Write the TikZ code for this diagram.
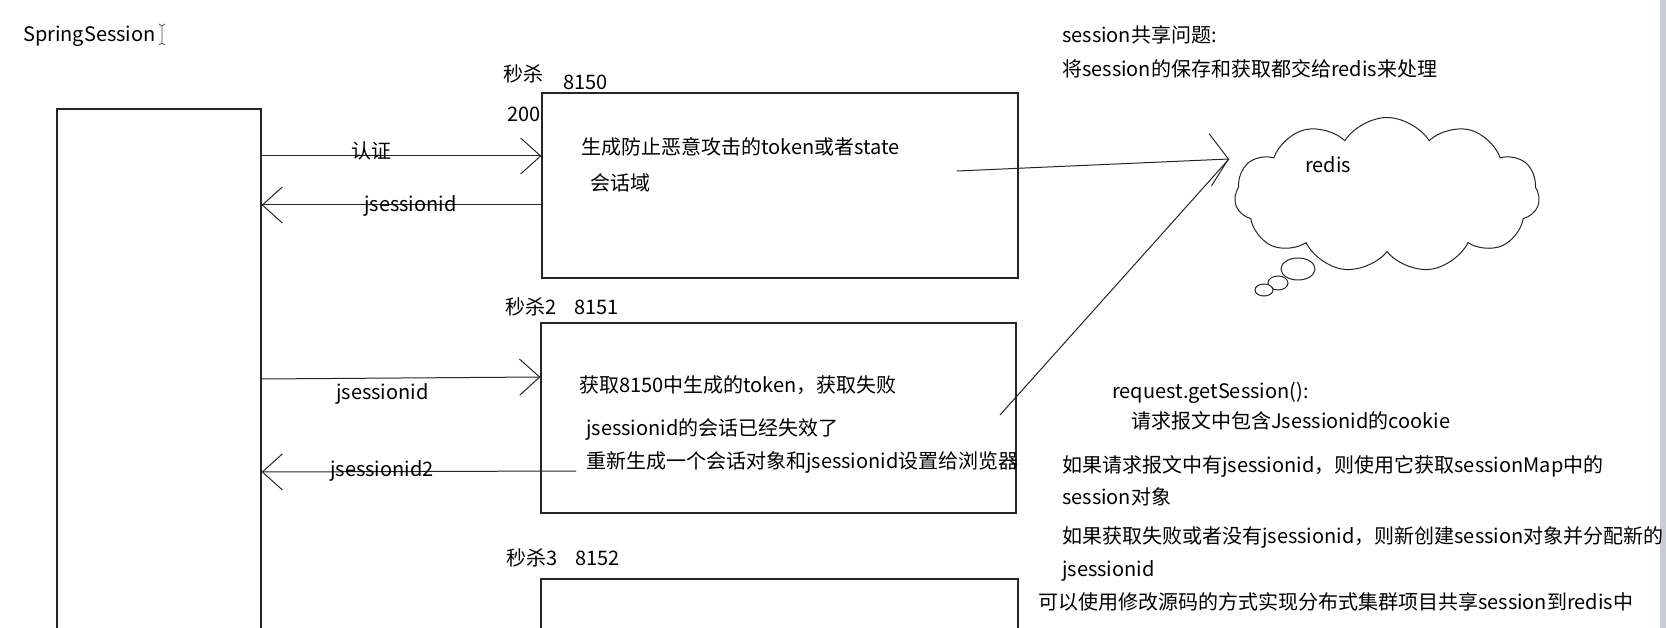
\documentclass[tikz,border=0pt]{standalone}
\usepackage{fontspec}
\setmainfont{Noto Sans CJK SC}
\usetikzlibrary{arrows.meta,shapes.symbols}
\definecolor{barcol}{RGB}{200,205,214}
\begin{document}
\begin{tikzpicture}[x=1pt,y=-1pt,
  txt/.style={anchor=west,inner sep=0pt,font=\fontsize{20}{23}\selectfont,text height=14pt,text depth=5pt,yshift=-3pt},
  box/.style={draw=black!85,line width=1.2pt,inner sep=0pt,fill=none},
  conn/.style={draw=black!85,line width=1pt},
  barb/.style={-{Straight Barb[length=20pt,width=36pt,line width=1pt]}},
  rbarb/.style={-{Straight Barb[length=18pt,width=52pt,line width=1pt]}}
]
\useasboundingbox (0,0) rectangle (1666,628);
\clip (0,0) rectangle (1666,628);
\fill[white] (0,0) rectangle (1666,628);
\fill[barcol] (1660,0) rectangle (1666,628);

% title and cursor
\node[txt] (title) at (23,34) {SpringSession};
\draw[black!70,line width=0.8pt] (159,24) -- (162,26) -- (165,24)
  (162,26) -- (162,43) (159,45) -- (162,43) -- (165,45);

% boxes
\node[box,minimum width=204pt,minimum height=582pt] (lb) at (159,400) {};
\node[box,minimum width=476pt,minimum height=185pt] (b1) at (780,185.5) {};
\node[box,minimum width=475pt,minimum height=190pt] (b2) at (778.5,418) {};
\node[box,minimum width=477pt,minimum height=200pt] (b3) at (779.5,679) {};

% box labels
\node[txt] (l1a) at (503,74) {秒杀};
\node[txt] (l1b) at (563,82) {8150};
\node[txt] (l1c) at (507,114) {200};
\node[txt] (l2) at (505,307) {秒杀2\hspace{18pt}8151};
\node[txt] (l3) at (506,558) {秒杀3\hspace{18pt}8152};

% box contents
\node[txt] (t11) at (581,147) {生成防止恶意攻击的token或者state};
\node[txt] (t12) at (590,183) {会话域};
\node[txt] (t21) at (579,385) {获取8150中生成的token，获取失败};
\node[txt] (t22) at (586,428) {jsessionid的会话已经失效了};
\node[txt] (t23) at (586,461) {重新生成一个会话对象和jsessionid设置给浏览器};

% cloud
\node[cloud,draw=black!85,line width=1pt,cloud puffs=11,cloud puff arc=115,cloud ignores aspect,
  minimum width=305pt,minimum height=155pt,inner sep=0pt] (redis) at (1387,195) {};
\node[txt] (redistxt) at (1305,165) {redis};
\draw[black!85,line width=1pt,fill=white] (1298,269) ellipse [x radius=17, y radius=11];
\draw[black!85,line width=1pt,fill=white] (1278,283) ellipse [x radius=10, y radius=7];
\draw[black!85,line width=1pt,fill=white] (1264,290) ellipse [x radius=9, y radius=6];
\coordinate (rtip) at (1229,159);

% connectors
\draw[conn,barb] (lb.east |- 0,156) -- (b1.west |- 0,156);
\draw[conn,barb] (b1.west |- 0,205) -- (lb.east |- 0,205);
\draw[conn,barb] (lb.east |- 0,379) -- (b2.west |- 0,377);
\coordinate (r2s) at (576,471);
\draw[conn,barb] (r2s) -- (lb.east |- 0,472);
\coordinate (s1) at (957,171);
\coordinate (s2) at (1000,415);
\draw[conn,rbarb] (s1) -- (rtip);
\draw[conn] (s2) -- (rtip);

% connector labels
\node[txt] (c1) at (351,151) {认证};
\node[txt] (c2) at (364,204) {jsessionid};
\node[txt] (c3) at (336,392) {jsessionid};
\node[txt] (c4) at (330,469) {jsessionid2};

% notes
\node[txt] (n1) at (1062,35) {session共享问题:};
\node[txt] (n2) at (1062,69) {将session的保存和获取都交给redis来处理};
\node[txt] (n3) at (1112,391) {request.getSession():};
\node[txt] (n4) at (1131,421) {请求报文中包含Jsessionid的cookie};
\node[txt] (n5) at (1062,465) {如果请求报文中有jsessionid，则使用它获取sessionMap中的};
\node[txt] (n6) at (1062,497) {session对象};
\node[txt] (n7) at (1062,536) {如果获取失败或者没有jsessionid，则新创建session对象并分配新的};
\node[txt] (n8) at (1062,569) {jsessionid};
\node[txt] (n9) at (1038,602) {可以使用修改源码的方式实现分布式集群项目共享session到redis中};
\end{tikzpicture}
\end{document}
